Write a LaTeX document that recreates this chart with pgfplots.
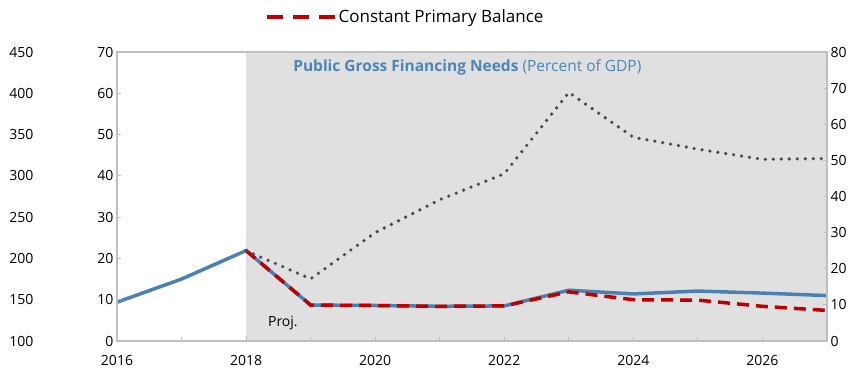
\documentclass[border=0pt]{standalone}
\usepackage{pgfplots}
\pgfplotsset{compat=1.18}
\usepackage{fontspec}
\setmainfont{Open Sans}
\definecolor{gfnblue}{HTML}{4A81B4}
\definecolor{gfnred}{HTML}{C00000}
\definecolor{dotgray}{HTML}{4A4A4A}
\definecolor{bggray}{HTML}{E0E0E0}
\definecolor{spine}{HTML}{BFBFBF}
\definecolor{titleblue}{HTML}{4A86B8}
\begin{document}
\begin{tikzpicture}
\useasboundingbox (-117pt,-28pt) rectangle (740pt,341pt);
\pgfplotsset{
  base/.style={scale only axis, width=710pt, height=289pt, xmin=2016, xmax=2027,
    tick label style={font=\fontsize{14}{16}\selectfont},
    /pgf/number format/assume math mode=true,
    /pgf/number format/1000 sep={},
    axis line style={spine, line width=1.8pt},
    major tick length=4pt, tick style={spine, line width=1pt}, tick align=inside}
}
\begin{axis}[base, axis on top, ymin=0, ymax=70, ytick={0,10,...,70},
  xtick={2016,...,2027}, xticklabels={2016,,2018,,2020,,2022,,2024,,2026,},
  xtick pos=left, ytick pos=left,
  xticklabel style={yshift=-11pt},
  legend style={at={(0.406,1.121)}, anchor=center, draw=none, fill=none,
    font=\fontsize{17}{20}\selectfont, inner sep=0pt},
  legend image code/.code={\draw[#1, dash pattern=on 16pt off 10pt] (0pt,0pt) -- (68pt,0pt);}]
\fill[bggray] (axis cs:2018,0) rectangle (axis cs:2027,70);
\addplot[gfnblue, line width=3.5pt, forget plot] coordinates {
 (2016,9.4)(2017,15.0)(2018,21.9)(2019,8.7)(2020,8.6)(2021,8.4)(2022,8.5)(2023,12.3)(2024,11.4)(2025,12.1)(2026,11.6)(2027,11.0)};
\addplot[gfnred, line width=3.5pt, dash pattern=on 12pt off 7pt] coordinates {
 (2018,21.9)(2019,8.7)(2020,8.6)(2021,8.4)(2022,8.5)(2023,11.9)(2024,10.0)(2025,9.9)(2026,8.4)(2027,7.4)};
\addlegendentry{Constant Primary Balance}
\node[anchor=center, font=\fontsize{14}{16}\selectfont] at (axis cs:2018.57,4.4) {Proj.};
\node[anchor=west, font=\fontsize{15.5}{18}\selectfont, text=titleblue, inner sep=0pt] at (rel axis cs:0.248,0.948) {\textbf{Public Gross Financing Needs} (Percent of GDP)};
\end{axis}
\begin{axis}[base, ymin=0, ymax=80, ytick={0,10,...,80}, hide x axis, axis y line*=right, ytick pos=right]
\addplot[dotgray, line width=3.6pt, line cap=round, dash pattern=on 0pt off 8pt] coordinates {
 (2018,25.0)(2019,17.2)(2020,30.0)(2021,39.1)(2022,46.3)(2023,68.8)(2024,56.4)(2025,53.1)(2026,50.3)(2027,50.5)};
\end{axis}
\begin{axis}[base, ymin=100, ymax=450, ytick={100,150,...,450}, hide x axis, axis y line*=left,
  y axis line style={draw=none}, major tick length=0pt, yticklabel style={xshift=-80pt}]
\end{axis}
\end{tikzpicture}
\end{document}
